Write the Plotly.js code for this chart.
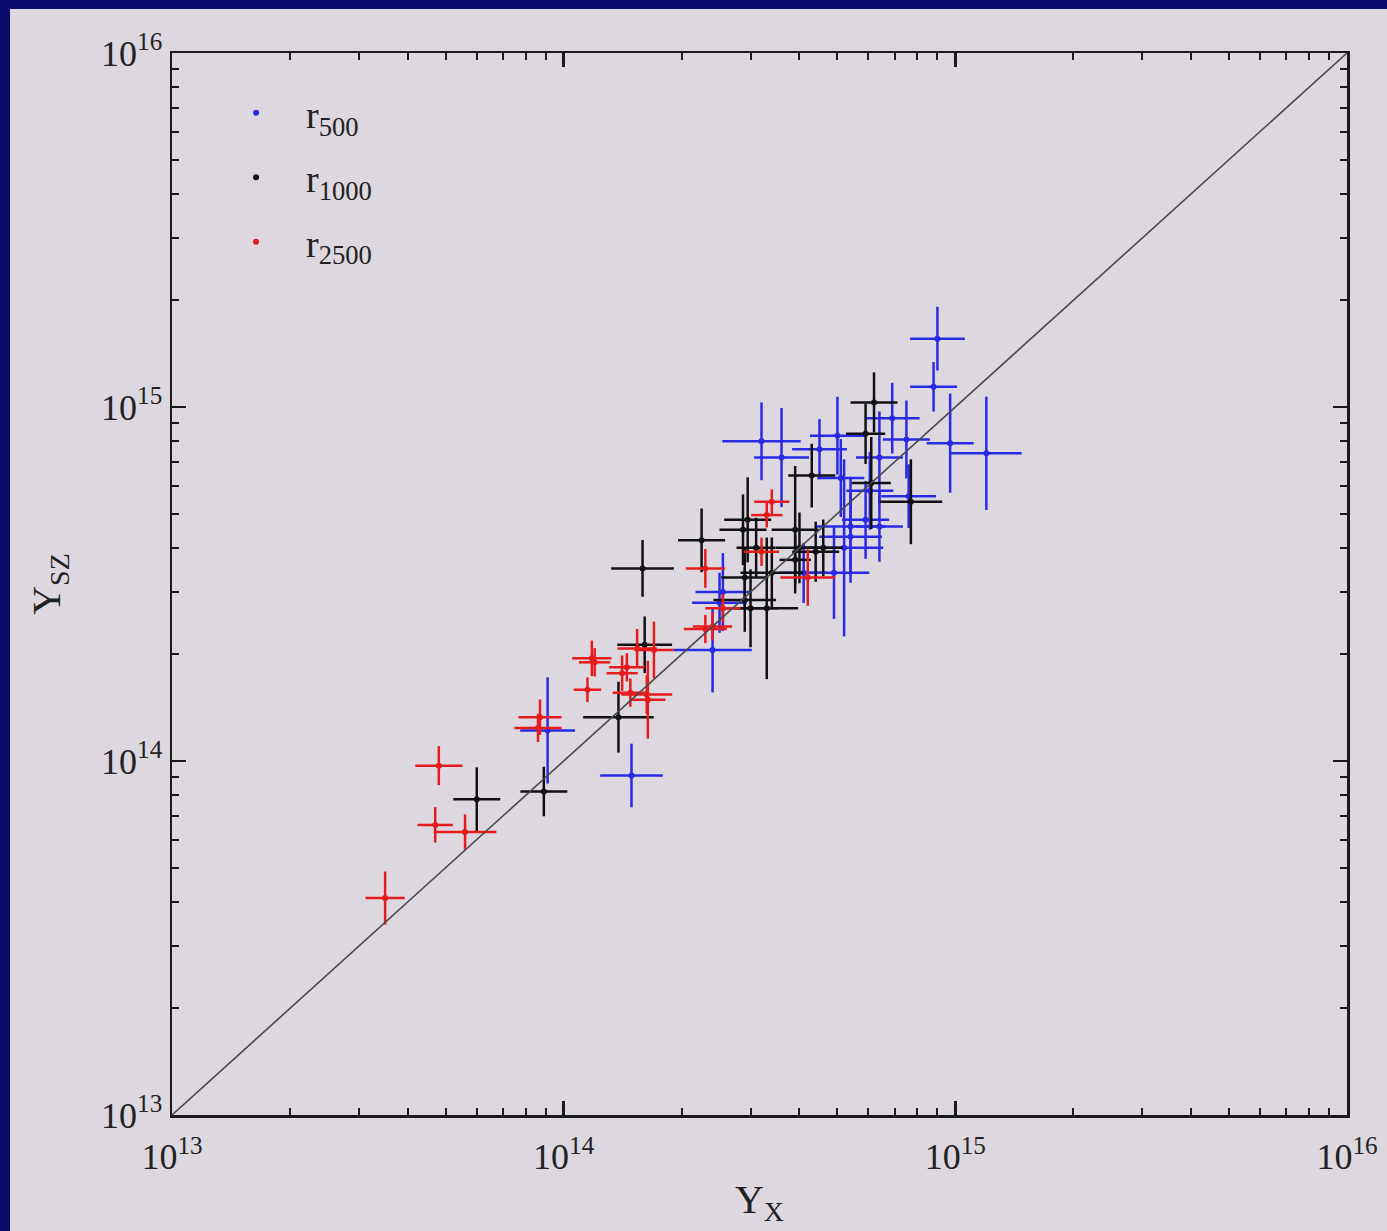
<!DOCTYPE html>
<html>
<head>
<meta charset="utf-8">
<script src="https://cdn.plot.ly/plotly-3.0.1.min.js"></script>
<style>
  html, body { margin: 0; padding: 0; background: #0b0b6e; width: 1387px; height: 1231px; overflow: hidden; }
  #chart { position: absolute; left: 10px; top: 9px; width: 1377px; height: 1222px; }
</style>
</head>
<body>
<div id="chart"></div>
<script>
// ---- data (values in the units of the axes) ----
// r500 (blue)
const r500X = [9.1e13, 1.49e14, 2.4e14, 2.55e14, 2.5e14, 3.2e14, 3.6e14, 4.5e14, 5.0e14, 6.9e14, 7.5e14, 9.0e14, 8.8e14, 9.7e14, 1.2e15, 5.1e14, 6.4e14, 7.6e14, 5.4e14, 5.9e14, 6.4e14, 5.4e14, 5.2e14, 4.9e14, 4.1e14, 6.05e14];
const r500Y = [1.22e14, 9.1e13, 2.06e14, 3.0e14, 2.8e14, 8.0e14, 7.2e14, 7.6e14, 8.3e14, 9.3e14, 8.1e14, 1.56e15, 1.14e15, 7.9e14, 7.4e14, 6.3e14, 7.2e14, 5.6e14, 4.6e14, 4.8e14, 4.6e14, 4.3e14, 4.0e14, 3.4e14, 3.4e14, 5.8e14];
// half-widths of the error bars, in dex (log10 units)
const r500XErrDex = [0.07, 0.08, 0.10, 0.07, 0.07, 0.10, 0.07, 0.07, 0.07, 0.07, 0.06, 0.07, 0.06, 0.06, 0.09, 0.06, 0.06, 0.07, 0.09, 0.06, 0.06, 0.08, 0.10, 0.09, 0.06, 0.06];
const r500YErrDex = [0.15, 0.09, 0.12, 0.11, 0.085, 0.11, 0.14, 0.085, 0.11, 0.10, 0.11, 0.09, 0.07, 0.14, 0.16, 0.11, 0.13, 0.09, 0.14, 0.11, 0.10, 0.13, 0.25, 0.13, 0.085, 0.11];

// r1000 (black)
const r1000X = [6.0e13, 8.9e13, 1.38e14, 1.61e14, 1.59e14, 2.25e14, 2.95e14, 2.87e14, 3.9e14, 4.3e14, 5.9e14, 6.2e14, 6.1e14, 7.7e14, 3.1e14, 4.0e14, 4.4e14, 4.6e14, 3.9e14, 3.4e14, 2.9e14, 3.3e14, 3.0e14, 2.9e14];
const r1000Y = [7.8e13, 8.2e13, 1.33e14, 2.13e14, 3.5e14, 4.2e14, 4.8e14, 4.5e14, 4.5e14, 6.4e14, 8.4e14, 1.03e15, 6.1e14, 5.4e14, 4.0e14, 4.0e14, 3.9e14, 4.0e14, 3.7e14, 3.4e14, 2.85e14, 2.7e14, 2.7e14, 3.3e14];
const r1000XErrDex = [0.06, 0.06, 0.09, 0.07, 0.08, 0.06, 0.06, 0.06, 0.06, 0.06, 0.05, 0.06, 0.05, 0.08, 0.05, 0.06, 0.06, 0.05, 0.04, 0.08, 0.08, 0.08, 0.07, 0.06];
const r1000YErrDex = [0.09, 0.07, 0.10, 0.08, 0.08, 0.09, 0.12, 0.10, 0.18, 0.09, 0.085, 0.085, 0.13, 0.12, 0.085, 0.10, 0.085, 0.08, 0.07, 0.10, 0.09, 0.20, 0.11, 0.085];

// r2500 (red)
const r2500X = [3.5e13, 4.8e13, 4.7e13, 5.6e13, 8.7e13, 8.6e13, 1.18e14, 1.15e14, 1.54e14, 1.45e14, 1.41e14, 1.63e14, 1.48e14, 2.3e14, 2.3e14, 3.4e14, 3.3e14, 3.2e14, 4.2e14, 2.55e14, 1.7e14, 1.64e14, 2.4e14, 1.2e14];
const r2500Y = [4.1e13, 9.7e13, 6.6e13, 6.3e13, 1.33e14, 1.24e14, 1.95e14, 1.59e14, 2.08e14, 1.84e14, 1.77e14, 1.54e14, 1.56e14, 3.5e14, 2.36e14, 5.4e14, 4.95e14, 3.9e14, 3.3e14, 2.7e14, 2.06e14, 1.49e14, 2.4e14, 1.9e14];
const r2500XErrDex = [0.05, 0.06, 0.045, 0.08, 0.055, 0.06, 0.05, 0.035, 0.05, 0.045, 0.04, 0.065, 0.045, 0.05, 0.055, 0.045, 0.04, 0.045, 0.07, 0.045, 0.05, 0.045, 0.05, 0.04];
const r2500YErrDex = [0.075, 0.055, 0.05, 0.05, 0.05, 0.04, 0.05, 0.035, 0.055, 0.04, 0.05, 0.055, 0.04, 0.055, 0.04, 0.035, 0.035, 0.04, 0.08, 0.04, 0.08, 0.11, 0.04, 0.04];

// one-to-one line
const lineX = [1e13, 1e16];
const lineY = [1e13, 1e16];

// axis ticks
const majorTicks = [1e13, 1e14, 1e15, 1e16];
const majorTickText = ['10<sup>13</sup>', '10<sup>14</sup>', '10<sup>15</sup>', '10<sup>16</sup>'];
const minorMantissas = [2, 3, 4, 5, 6, 7, 8, 9];

const seriesNames = ['r<sub>500</sub>', 'r<sub>1000</sub>', 'r<sub>2500</sub>'];
const seriesColors = ['#2a2ae6', '#111111', '#e61c1c'];

// ---- build ----
const minorTicks = [];
for (let i = 0; i < majorTicks.length - 1; i++) {
  minorMantissas.forEach(m => minorTicks.push(m * majorTicks[i]));
}
function errPlus(v, d) { return v.map((x, i) => x * (Math.pow(10, d[i]) - 1)); }
function errMinus(v, d) { return v.map((x, i) => x * (1 - Math.pow(10, -d[i]))); }

function series(x, y, dx, dy, name, color, grp) {
  return {
    type: 'scatter', mode: 'markers', name: name, legendgroup: grp,
    x: x, y: y,
    marker: { color: color, size: 6 },
    error_x: { type: 'data', symmetric: false, array: errPlus(x, dx), arrayminus: errMinus(x, dx), color: color, thickness: 2.5, width: 0 },
    error_y: { type: 'data', symmetric: false, array: errPlus(y, dy), arrayminus: errMinus(y, dy), color: color, thickness: 2.5, width: 0 },
    cliponaxis: true
  };
}

const traces = [
  series(r500X, r500Y, r500XErrDex, r500YErrDex, seriesNames[0], seriesColors[0], 'g1'),
  series(r1000X, r1000Y, r1000XErrDex, r1000YErrDex, seriesNames[1], seriesColors[1], 'g2'),
  series(r2500X, r2500Y, r2500XErrDex, r2500YErrDex, seriesNames[2], seriesColors[2], 'g3'),
  { type: 'scatter', mode: 'lines', x: lineX, y: lineY, xaxis: 'x2', yaxis: 'y', showlegend: false, hoverinfo: 'skip',
    line: { color: '#4a4a4a', width: 1.6 } }
];

const serif = 'Liberation Serif, Times New Roman, serif';
const logRange = [13 - 1e-6, 16 + 1e-6];
const axisCommon = {
  type: 'log',
  range: logRange,
  tickmode: 'array',
  tickvals: majorTicks,
  ticktext: majorTickText,
  showline: true, linecolor: '#1a1a1a', linewidth: 2.5, mirror: 'ticks',
  ticks: 'inside', ticklen: 14, tickwidth: 2.5, tickcolor: '#1a1a1a',
  minor: { tickvals: minorTicks, ticks: 'inside', ticklen: 7, tickwidth: 2, tickcolor: '#1a1a1a' },
  showgrid: false, zeroline: false,
  tickfont: { family: serif, size: 36, color: '#222' }
};

const layout = {
  width: 1377, height: 1222,
  margin: { l: 162, r: 40, t: 44, b: 116 },
  paper_bgcolor: '#ddd8e0',
  plot_bgcolor: '#ddd8e0',
  showlegend: true,
  legend: {
    x: 0.029, y: 0.973, xanchor: 'left', yanchor: 'top',
    bgcolor: 'rgba(0,0,0,0)', borderwidth: 0,
    font: { family: serif, size: 38, color: '#222' },
    itemwidth: 90, tracegroupgap: 12, traceorder: 'grouped'
  },
  // main x axis: frame and inside ticks only
  xaxis: Object.assign({}, axisCommon, { showticklabels: false }),
  // label axis for x: same scale, carries the tick labels (pushed down a little) and the title
  xaxis2: {
    type: 'log', range: logRange, overlaying: 'x', anchor: 'y', side: 'bottom',
    tickmode: 'array', tickvals: majorTicks, ticktext: majorTickText,
    ticks: 'outside', ticklen: 10, tickcolor: 'rgba(0,0,0,0)', showline: false,
    showgrid: false, zeroline: false,
    tickfont: { family: serif, size: 36, color: '#222' },
    title: { text: 'Y<sub>X</sub>', font: { family: serif, size: 40, color: '#222' }, standoff: 8 }
  },
  yaxis: Object.assign({}, axisCommon, {
    title: { text: 'Y<sub>SZ</sub>', font: { family: serif, size: 40, color: '#222' }, standoff: 28 }
  })
};

Plotly.newPlot('chart', traces, layout, { staticPlot: true, displayModeBar: false });
</script>
</body>
</html>
